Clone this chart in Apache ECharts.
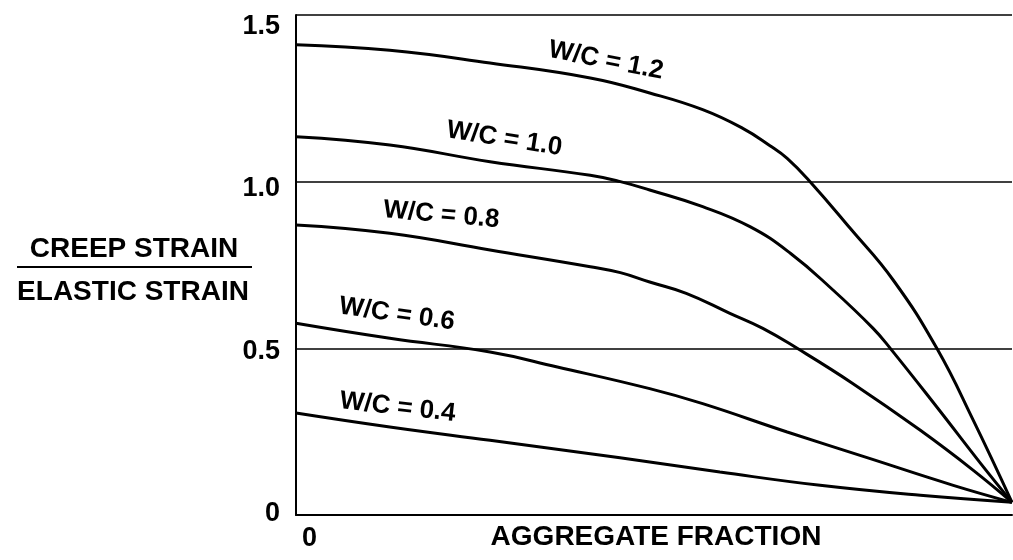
<!DOCTYPE html>
<html><head><meta charset="utf-8">
<script src="https://cdn.jsdelivr.net/npm/echarts@6/dist/echarts.min.js"></script>
<style>html,body{margin:0;padding:0;background:#fff}#c{width:1013px;height:560px}</style>
</head><body><div id="c"></div>
<script>
// ---- data ----
const xTickLabels = ['0'];
const xAxisTitle = 'AGGREGATE FRACTION';
const yTitleTop = 'CREEP STRAIN';
const yTitleBottom = 'ELASTIC STRAIN';
const yTickValues = [0, 0.5, 1.0, 1.5];
const seriesNames = ['W/C = 1.2', 'W/C = 1.0', 'W/C = 0.8', 'W/C = 0.6', 'W/C = 0.4'];
const wc12 = [[0,1.411],[0.131,1.394],[0.271,1.356],[0.411,1.311],[0.494,1.266],[0.568,1.216],[0.624,1.160],[0.662,1.108],[0.686,1.070],[0.718,1.000],[0.774,0.860],[0.834,0.705],[0.895,0.500],[0.946,0.284],[1.0,0.038]];
const wc10 = [[0,1.135],[0.131,1.110],[0.271,1.060],[0.411,1.019],[0.453,1.000],[0.494,0.975],[0.568,0.925],[0.634,0.865],[0.690,0.786],[0.750,0.675],[0.806,0.560],[0.830,0.500],[0.895,0.324],[0.955,0.158],[1.0,0.038]];
const wc08 = [[0,0.870],[0.131,0.845],[0.271,0.795],[0.411,0.745],[0.453,0.727],[0.494,0.699],[0.545,0.665],[0.606,0.605],[0.652,0.560],[0.700,0.500],[0.778,0.394],[0.872,0.254],[0.946,0.134],[1.0,0.038]];
const wc06 = [[0,0.575],[0.131,0.530],[0.271,0.489],[0.365,0.444],[0.494,0.379],[0.568,0.334],[0.686,0.249],[0.802,0.169],[0.918,0.089],[1.0,0.038]];
const wc04 = [[0,0.306],[0.131,0.264],[0.271,0.224],[0.411,0.184],[0.494,0.159],[0.592,0.129],[0.732,0.089],[0.872,0.059],[1.0,0.038]];
const seriesData = [wc12, wc10, wc08, wc06, wc04];

// ---- label placement (data coordinates) and tilt, kept apart from the data ----
const labelAnchors = [[0.433,1.363],[0.291,1.128],[0.203,0.900],[0.141,0.602],[0.142,0.323]];
const labelTilt = [11, 9, 5, 8, 6.5];

const FONT = '"Liberation Sans", Arial, Helvetica, sans-serif';
const chart = echarts.init(document.getElementById('c'), null, {renderer: 'canvas'});

const yRich = {
  r0: {padding: [0,0,3,0]},
  r05: {padding: [6,0,0,0]},
  r10: {padding: [14,0,0,0]},
  r15: {padding: [24,0,0,0]}
};
const yKey = {0: 'r0', 0.5: 'r05', 1: 'r10', 1.5: 'r15'};

chart.setOption({
  animation: false,
  backgroundColor: '#fff',
  grid: {left: 296, right: 1, top: 15, bottom: 45, containLabel: false, outerBoundsMode: 'none'},
  xAxis: {
    type: 'value', min: 0, max: 1, interval: 1,
    axisLine: {show: true, lineStyle: {color: '#000', width: 2}},
    axisTick: {show: false},
    splitLine: {show: false},
    axisLabel: {
      show: true, margin: 10, align: 'left', padding: [0,0,0,6],
      color: '#000', fontFamily: FONT, fontWeight: 'bold', fontSize: 27,
      formatter: v => (v === 0 ? xTickLabels[0] : '')
    }
  },
  yAxis: {
    type: 'value', min: 0, max: 1.5, interval: 0.5,
    axisLine: {show: true, lineStyle: {color: '#000', width: 2}},
    axisTick: {show: false},
    splitLine: {show: true, lineStyle: {color: '#000', width: 1.6}},
    axisLabel: {
      margin: 16, color: '#000', fontFamily: FONT, fontWeight: 'bold', fontSize: 27,
      formatter: v => {
        const t = yTickValues.indexOf(v) >= 0 ? (v === 0 ? '0' : v.toFixed(1)) : '';
        return '{' + yKey[v] + '|' + t + '}';
      },
      rich: Object.fromEntries(Object.entries(yRich).map(([k, s]) => [k, Object.assign({fontFamily: FONT, fontWeight: 'bold', fontSize: 27, color: '#000'}, s)]))
    }
  },
  series: seriesData.map((d, i) => ({
    name: seriesNames[i], type: 'line', data: d,
    showSymbol: false, symbol: 'none',
    smooth: 0.45,
    lineStyle: {color: '#000', width: 3},
    z: 5
  }))
});

const graphics = seriesNames.map((name, i) => {
  const p = chart.convertToPixel({gridIndex: 0}, labelAnchors[i]);
  return {
    type: 'text', x: p[0], y: p[1], rotation: -labelTilt[i] * Math.PI / 180,
    style: {text: name, fill: '#000', font: 'bold 26px ' + FONT, align: 'center', verticalAlign: 'middle'},
    z: 10
  };
});
graphics.push(
  {type: 'text', x: 656, y: 537, style: {text: xAxisTitle, fill: '#000', font: 'bold 28px ' + FONT, align: 'center', verticalAlign: 'middle'}},
  {type: 'text', x: 134, y: 249, style: {text: yTitleTop, fill: '#000', font: 'bold 28px ' + FONT, align: 'center', verticalAlign: 'middle'}},
  {type: 'line', shape: {x1: 17, y1: 267, x2: 252, y2: 267}, style: {stroke: '#000', lineWidth: 2}},
  {type: 'text', x: 133, y: 292, style: {text: yTitleBottom, fill: '#000', font: 'bold 28px ' + FONT, align: 'center', verticalAlign: 'middle'}}
);
chart.setOption({graphic: graphics});
</script>
</body></html>
